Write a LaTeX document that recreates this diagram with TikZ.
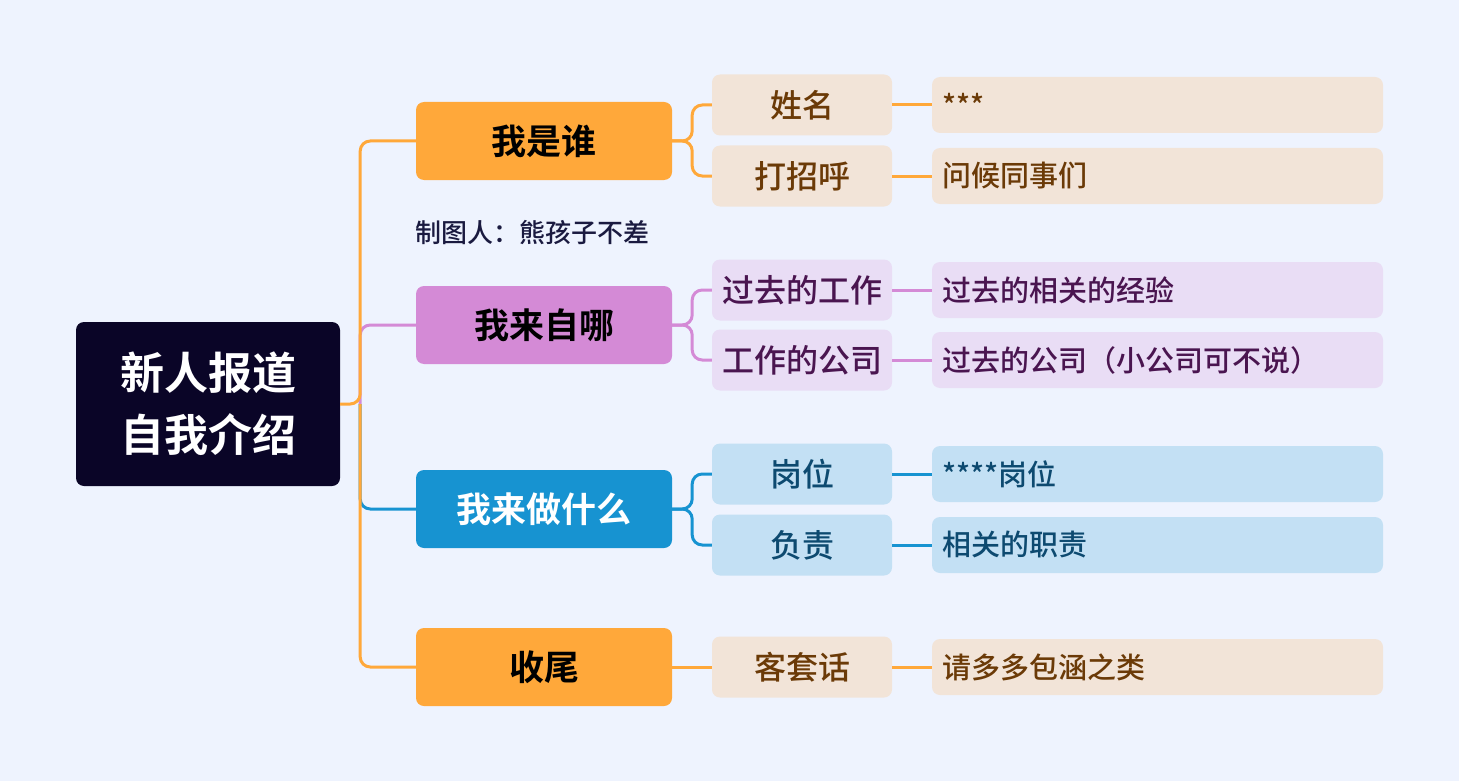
\documentclass[tikz,border=0pt]{standalone}
\usepackage{fontspec}
\setmainfont{Noto Sans CJK SC}
\newfontfamily\cjkmed{Noto Sans CJK SC Medium}
\newfontfamily\cjkbold{Noto Sans CJK SC Bold}
\definecolor{bg}{HTML}{EEF3FE}
\definecolor{cOr}{HTML}{FFA83A}
\definecolor{cPu}{HTML}{D48AD6}
\definecolor{cBl}{HTML}{1793D1}
\definecolor{cRoot}{HTML}{0A0527}
\definecolor{fOr}{HTML}{F2E4D8}
\definecolor{tOr}{HTML}{6B3A07}
\definecolor{fPu}{HTML}{E9DDF5}
\definecolor{tPu}{HTML}{4A1550}
\definecolor{fBl}{HTML}{C3E0F4}
\definecolor{tBl}{HTML}{0D4A70}
\definecolor{cNote}{HTML}{1A1A40}
\tikzset{
  rootbox/.style={fill=cRoot, rounded corners=8pt, minimum width=264pt, minimum height=164pt, text=white, font=\cjkbold\fontsize{44}{62}\selectfont, align=center, inner sep=0pt},
  lvone/.style={rounded corners=8pt, minimum width=256pt, minimum height=78pt, font=\cjkbold\fontsize{35}{40}\selectfont, inner sep=0pt},
  lvtwo/.style={rounded corners=8pt, minimum width=180pt, minimum height=61pt, font=\cjkmed\fontsize{32}{36}\selectfont, inner sep=0pt},
  lvthree/.style={rounded corners=8pt, minimum height=56pt, text width=431pt, inner xsep=10pt, inner ysep=0pt, align=left, font=\cjkmed\fontsize{29}{33}\selectfont},
  link/.style={line width=3pt, rounded corners=10pt},
}
\begin{document}
\begin{tikzpicture}[x=1pt,y=-1pt]
\useasboundingbox[fill=bg] (0,0) rectangle (1459,781);
% root
\node[rootbox] (root) at (208,404) {新人报道\\自我介绍};
% level 1
\node[lvone, fill=cOr, text=black] (who) at (544,141) {我是谁};
\node[lvone, fill=cPu, text=black] (from) at (544,325) {我来自哪};
\node[lvone, fill=cBl, text=white] (do) at (544,509) {我来做什么};
\node[lvone, fill=cOr, text=black] (end) at (544,667) {收尾};
% note
\node[anchor=west, inner sep=0pt, text=cNote, font=\cjkmed\fontsize{26}{30}\selectfont] (note) at (415,233) {制图人：熊孩子不差};
% level 2
\node[lvtwo, fill=fOr, text=tOr] (name) at (802,105) {姓名};
\node[lvtwo, fill=fOr, text=tOr] (hello) at (802,176) {打招呼};
\node[lvtwo, fill=fPu, text=tPu] (past) at (802,290) {过去的工作};
\node[lvtwo, fill=fPu, text=tPu] (comp) at (802,360) {工作的公司};
\node[lvtwo, fill=fBl, text=tBl] (post) at (802,474) {岗位};
\node[lvtwo, fill=fBl, text=tBl] (duty) at (802,545) {负责};
\node[lvtwo, fill=fOr, text=tOr] (polite) at (802,667) {客套话};
% level 3
\node[lvthree, fill=fOr, text=tOr] (nameV) at (1157.5,105) {***};
\node[lvthree, fill=fOr, text=tOr] (helloV) at (1157.5,176) {问候同事们};
\node[lvthree, fill=fPu, text=tPu] (pastV) at (1157.5,290) {过去的相关的经验};
\node[lvthree, fill=fPu, text=tPu] (compV) at (1157.5,360) {过去的公司（小公司可不说）};
\node[lvthree, fill=fBl, text=tBl] (postV) at (1157.5,474) {****岗位};
\node[lvthree, fill=fBl, text=tBl] (dutyV) at (1157.5,545) {相关的职责};
\node[lvthree, fill=fOr, text=tOr] (politeV) at (1157.5,667) {请多多包涵之类};
% trunk connectors
\coordinate (hub) at ([xshift=20pt]root.east);
\draw[link, cPu] (hub) |- (from.west);
\draw[link, cBl] (hub) |- (do.west);
\draw[link, cOr] (root.east) -- (hub) |- (who.west);
\draw[link, cOr] (hub) |- (end.west);
% level 1 -> level 2
\draw[link, cOr] (who.east) -- ++(20,0) |- (name.west);
\draw[link, cOr] (who.east) -- ++(20,0) |- (hello.west);
\draw[link, cPu] (from.east) -- ++(20,0) |- (past.west);
\draw[link, cPu] (from.east) -- ++(20,0) |- (comp.west);
\draw[link, cBl] (do.east) -- ++(20,0) |- (post.west);
\draw[link, cBl] (do.east) -- ++(20,0) |- (duty.west);
\draw[link, cOr] (end.east) -- (polite.west);
% level 2 -> level 3
\draw[link, cOr] (name.east) -- (nameV.west);
\draw[link, cOr] (hello.east) -- (helloV.west);
\draw[link, cPu] (past.east) -- (pastV.west);
\draw[link, cPu] (comp.east) -- (compV.west);
\draw[link, cBl] (post.east) -- (postV.west);
\draw[link, cBl] (duty.east) -- (dutyV.west);
\draw[link, cOr] (polite.east) -- (politeV.west);
\end{tikzpicture}
\end{document}
